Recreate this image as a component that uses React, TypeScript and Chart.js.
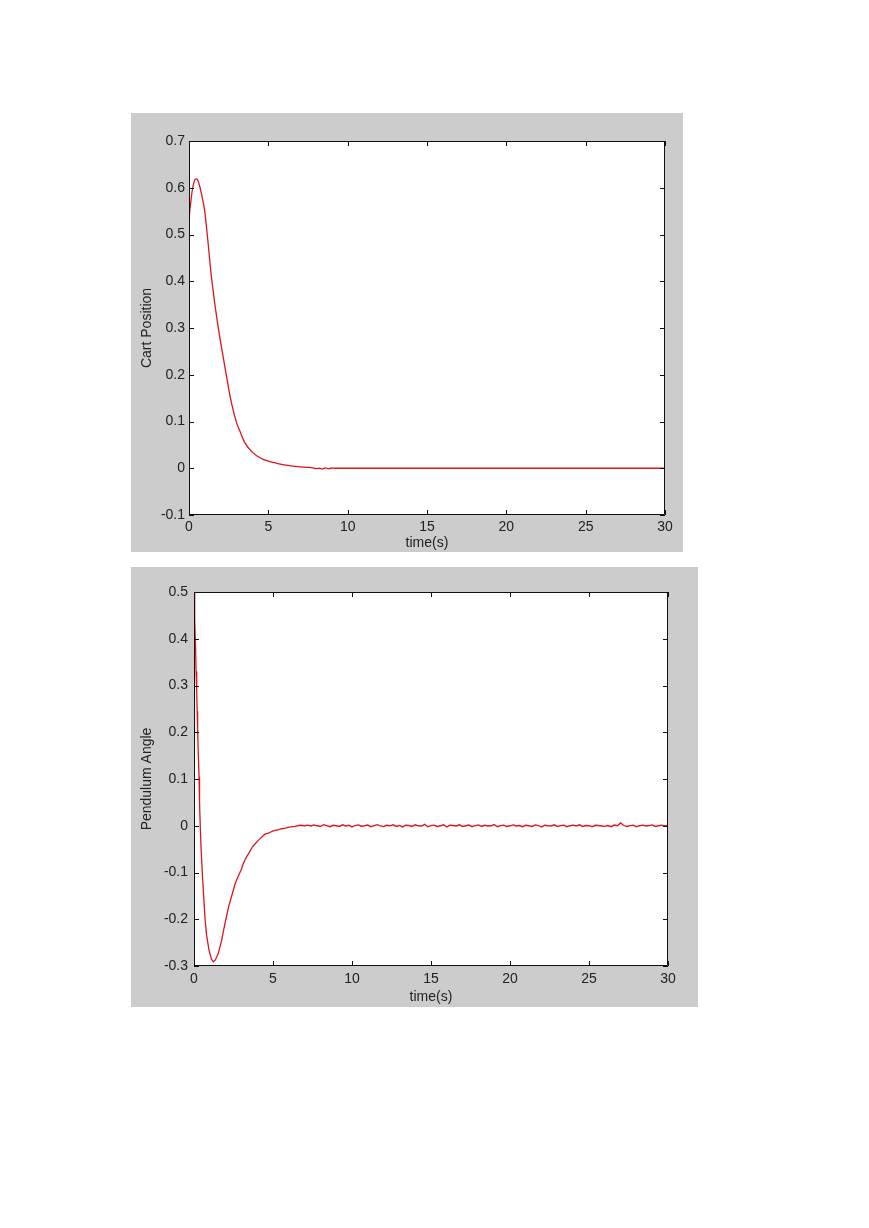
import React, { useEffect, useRef } from "react";
import { Chart, registerables } from "chart.js";

Chart.register(...registerables);

// ---------- DATA ----------
// Cart position (top chart)
const cartTimes = [
  0, 0.02, 0.1, 0.2, 0.3, 0.4, 0.5, 0.6, 0.7, 0.8, 0.9, 1.0, 1.1, 1.2, 1.3, 1.4, 1.5, 1.6, 1.7, 1.8, 1.9,
  2.0, 2.2, 2.4, 2.6, 2.8, 3.0, 3.2, 3.5, 4.0, 4.5, 5.0, 5.5, 6.0, 6.5, 7.0, 7.5, 7.8, 8.0, 8.2, 8.4, 8.6,
  8.8, 9.0, 9.2, 10, 15, 20, 25, 30,
];
const cartValues = [
  0.5, 0.532, 0.565, 0.593, 0.61, 0.618, 0.619, 0.612, 0.6, 0.585, 0.568, 0.548, 0.517, 0.483, 0.448,
  0.413, 0.385, 0.358, 0.334, 0.311, 0.289, 0.268, 0.229, 0.19, 0.152, 0.122, 0.097, 0.08, 0.056, 0.034,
  0.022, 0.015, 0.0108, 0.007, 0.0045, 0.003, 0.002, 0.001, -0.001, 0.0, -0.0015, 0.001, -0.001, 0.0005,
  0.0, 0.0, 0.0, 0.0, 0.0, 0.0,
];

// Pendulum angle (bottom chart) – transient part
const angleTimes = [
  0, 0.03, 0.06, 0.1, 0.13, 0.17, 0.2, 0.23, 0.27, 0.32, 0.35, 0.4, 0.45, 0.53, 0.6, 0.7, 0.8, 0.95, 1.1,
  1.22, 1.35, 1.54, 1.75, 1.96, 2.2, 2.49, 2.6, 2.8, 3.0, 3.12, 3.3, 3.5, 3.7, 3.86, 4.0, 4.2, 4.49, 4.7,
  5.0, 5.3, 5.55, 5.8, 6.0, 6.4, 6.7, 7.0,
];
const angleValues = [
  0.5, 0.47, 0.44, 0.38, 0.33, 0.29, 0.245, 0.205, 0.155, 0.105, 0.05, -0.005, -0.05, -0.103, -0.145,
  -0.2, -0.235, -0.266, -0.285, -0.291, -0.287, -0.273, -0.245, -0.209, -0.172, -0.138, -0.124, -0.108,
  -0.093, -0.081, -0.068, -0.057, -0.045, -0.039, -0.034, -0.027, -0.018, -0.016, -0.011, -0.009, -0.0064,
  -0.005, -0.003, -0.0015, 0.001, 0.0,
];
// Pendulum angle – steady-state jitter, sampled every 0.2 s from 7.2 s to 30 s
const angleNoiseStart = 7.2;
const angleNoiseStep = 0.2;
const angleNoise = [
  0.0015, -0.0005, 0.002, 0.0, -0.0015, 0.0025, 0.0005, -0.002, 0.001, 0.0,
  -0.0015, 0.002, -0.0005, 0.001, -0.0025, 0.0005, 0.002, -0.001, 0.0, 0.0015,
  -0.002, 0.0005, 0.0025, -0.0005, -0.002, 0.001, 0.0, 0.002, -0.0015, 0.0005,
  -0.0025, 0.001, 0.0005, -0.0015, 0.002, 0.0, -0.0005, 0.003, -0.002, 0.0005,
  0.0015, -0.0015, 0.0, 0.002, -0.0025, 0.001, 0.0005, -0.0005, 0.002, -0.0015,
  0.0, 0.0015, -0.002, 0.0005, 0.002, -0.0015, 0.001, -0.0005, 0.0, 0.0025,
  -0.002, 0.0005, 0.0015, -0.0015, 0.0, 0.002, -0.0005, 0.0005, -0.002, 0.001,
  0.0, -0.0015, 0.002, 0.0005, -0.0025, 0.001, 0.0, -0.0005, 0.002, -0.0015,
  0.0005, 0.0015, -0.002, 0.0, 0.0015, -0.0005, 0.002, -0.0015, 0.0005, 0.0,
  -0.002, 0.001, 0.0005, -0.0005, -0.0015, 0.0005, -0.002, 0.0015, 0.0, 0.006,
  0.0005, -0.0015, 0.0005, 0.0015, -0.002, 0.0, 0.0015, -0.0005, 0.0005, 0.002,
  -0.0015, 0.0, 0.0015, -0.0005, 0.0005,
];

const timeTicks = [0, 5, 10, 15, 20, 25, 30];
const cartTicks = [-0.1, 0, 0.1, 0.2, 0.3, 0.4, 0.5, 0.6, 0.7];
const angleTicks = [-0.3, -0.2, -0.1, 0, 0.1, 0.2, 0.3, 0.4, 0.5];

const xTitle = "time(s)";
const cartTitle = "Cart Position";
const angleTitle = "Pendulum Angle";

// ---------- STYLE ----------
const FONT = '"Liberation Sans", Arial, Helvetica, sans-serif';
const LINE_COLOR = "#dd1420";
const TEXT_COLOR = "#222222";
const PANEL_BG = "#cccccc";

const matlabPlugin = {
  id: "matlabBox",
  beforeDraw(chart: any) {
    const { ctx, chartArea: a } = chart;
    ctx.save();
    ctx.fillStyle = "#ffffff";
    ctx.fillRect(a.left, a.top, a.right - a.left, a.bottom - a.top);
    ctx.restore();
  },
  afterDraw(chart: any) {
    const { ctx, chartArea: a, scales } = chart;
    const L = 5;
    ctx.save();
    ctx.strokeStyle = "#111111";
    ctx.lineWidth = 1;
    ctx.beginPath();
    ctx.rect(a.left + 0.5, a.top + 0.5, a.right - a.left - 1, a.bottom - a.top - 1);
    const xs = scales.x;
    xs.ticks.forEach((t: any) => {
      const px = Math.round(xs.getPixelForValue(t.value)) + 0.5;
      ctx.moveTo(px, a.bottom);
      ctx.lineTo(px, a.bottom - L);
      ctx.moveTo(px, a.top);
      ctx.lineTo(px, a.top + L);
    });
    const ys = scales.y;
    ys.ticks.forEach((t: any) => {
      const py = Math.round(ys.getPixelForValue(t.value)) + 0.5;
      ctx.moveTo(a.left, py);
      ctx.lineTo(a.left + L, py);
      ctx.moveTo(a.right, py);
      ctx.lineTo(a.right - L, py);
    });
    ctx.stroke();
    ctx.restore();
  },
};

type PanelProps = {
  left: number;
  top: number;
  width: number;
  height: number;
  points: { x: number; y: number }[];
  yTicks: number[];
  yTitle: string;
  padTop: number;
  padRight: number;
  yAxisWidth: number;
  xAxisHeight: number;
  yTickPad: number;
  xTickPad: number;
  xTitlePad: number;
  smooth: boolean;
};

function Panel(p: PanelProps) {
  const ref = useRef<HTMLCanvasElement | null>(null);
  useEffect(() => {
    if (!ref.current) return;
    const chart = new Chart(ref.current, {
      type: "line",
      data: {
        datasets: [
          {
            data: p.points,
            borderColor: LINE_COLOR,
            borderWidth: 1.3,
            pointRadius: 0,
            fill: false,
            cubicInterpolationMode: p.smooth ? "monotone" : "default",
            tension: 0,
          },
        ],
      },
      options: {
        animation: false,
        responsive: false,
        devicePixelRatio: 1,
        layout: { padding: { left: 0, top: p.padTop, right: p.padRight, bottom: 0 } },
        plugins: { legend: { display: false }, tooltip: { enabled: false } },
        scales: {
          x: {
            type: "linear",
            min: timeTicks[0],
            max: timeTicks[timeTicks.length - 1],
            afterBuildTicks: (s: any) => {
              s.ticks = timeTicks.map((v) => ({ value: v }));
            },
            afterFit: (s: any) => {
              s.height = p.xAxisHeight;
            },
            grid: { display: false, drawTicks: false },
            border: { display: false },
            ticks: {
              autoSkip: false,
              maxRotation: 0,
              padding: p.xTickPad,
              color: TEXT_COLOR,
              font: { family: FONT, size: 14 },
              callback: (v: any) => String(Math.round(Number(v))),
            },
            title: {
              display: true,
              text: xTitle,
              color: TEXT_COLOR,
              font: { family: FONT, size: 14 },
              padding: { top: 0, bottom: p.xTitlePad },
            },
          },
          y: {
            type: "linear",
            min: p.yTicks[0],
            max: p.yTicks[p.yTicks.length - 1],
            afterBuildTicks: (s: any) => {
              s.ticks = p.yTicks.map((v) => ({ value: v }));
            },
            afterFit: (s: any) => {
              s.width = p.yAxisWidth;
            },
            grid: { display: false, drawTicks: false },
            border: { display: false },
            ticks: {
              autoSkip: false,
              padding: p.yTickPad,
              color: TEXT_COLOR,
              font: { family: FONT, size: 14 },
              callback: (v: any) => String(Math.round(Number(v) * 10) / 10),
            },
            title: {
              display: true,
              text: p.yTitle,
              color: TEXT_COLOR,
              font: { family: FONT, size: 14 },
              padding: { top: 8, bottom: 0 },
            },
          },
        },
      },
      plugins: [matlabPlugin],
    } as any);
    return () => chart.destroy();
  }, []);
  return (
    <div
      style={{
        position: "absolute",
        left: p.left,
        top: p.top,
        width: p.width,
        height: p.height,
        background: PANEL_BG,
      }}
    >
      <canvas
        ref={ref}
        width={p.width}
        height={p.height}
        style={{ display: "block", width: p.width, height: p.height }}
      />
    </div>
  );
}

export default function App() {
  const cartPoints = cartTimes.map((t, i) => ({ x: t, y: cartValues[i] }));
  const anglePoints = angleTimes
    .map((t, i) => ({ x: t, y: angleValues[i] }))
    .concat(
      angleNoise.map((v, i) => ({
        x: Math.round((angleNoiseStart + i * angleNoiseStep) * 100) / 100,
        y: v,
      }))
    );
  return (
    <div style={{ position: "relative", width: 853, height: 1212 }}>
      <div style={{ position: "absolute", left: -8, top: -8, width: 869, height: 1228 }}>
        <Panel
          left={131}
          top={113}
          width={552}
          height={439}
          points={cartPoints}
          yTicks={cartTicks}
          yTitle={cartTitle}
          padTop={28}
          padRight={18}
          yAxisWidth={58}
          xAxisHeight={37}
          yTickPad={4}
          xTickPad={4}
          xTitlePad={0}
          smooth={true}
        />
        <Panel
          left={131}
          top={567}
          width={567}
          height={440}
          points={anglePoints}
          yTicks={angleTicks}
          yTitle={angleTitle}
          padTop={25}
          padRight={30}
          yAxisWidth={63}
          xAxisHeight={41}
          yTickPad={6}
          xTickPad={5}
          xTitlePad={1}
          smooth={false}
        />
      </div>
    </div>
  );
}
